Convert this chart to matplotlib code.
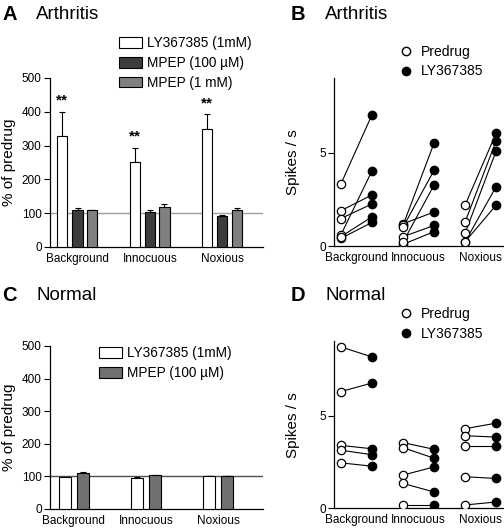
import matplotlib
matplotlib.use("Agg")
import matplotlib.pyplot as plt
from matplotlib.lines import Line2D
import numpy as np

plt.rcParams['font.family'] = ['Liberation Sans', 'DejaVu Sans']

conditions = ["Background", "Innocuous", "Noxious"]

# A: arthritis, % of predrug (mean, upper SEM)
arth_labels = ["LY367385 (1mM)", "MPEP (100 \u00b5M)", "MPEP (1 mM)"]
arth_means = [[327, 250, 350], [110, 104, 93], [108, 119, 108]]
arth_err = [[73, 44, 42], [5, 6, 3], [2, 9, 6]]
arth_colors = ["white", "#3c3c3c", "#808080"]
arth_sig = ["**", "**", "**"]

# C: normal, % of predrug
norm_labels = ["LY367385 (1mM)", "MPEP (100 \u00b5M)"]
norm_means = [[97, 96, 101], [111, 104, 101]]
norm_err = [[2, 2, 1], [2, 1, 1]]
norm_colors = ["white", "#707070"]

# B: arthritis, spikes/s, predrug vs LY367385 (paired units)
arth_pre = [[3.31, 1.89, 1.47, 0.59, 0.41, 0.50],
            [1.19, 1.10, 1.00, 0.50, 0.09, 0.20],
            [2.19, 1.28, 0.68, 0.23, 0.23]]
arth_post = [[7.01, 2.73, 2.25, 4.01, 1.26, 1.56],
             [1.82, 5.50, 4.05, 1.10, 0.77, 3.26],
             [6.04, 5.63, 5.09, 3.18, 2.19]]

# D: normal, spikes/s
norm_pre = [[8.70, 6.29, 3.39, 3.13, 2.45],
            [3.54, 3.27, 1.79, 1.34, 0.18],
            [4.29, 3.91, 3.36, 1.70, 0.18]]
norm_post = [[8.16, 6.75, 3.21, 2.89, 2.27],
             [3.18, 2.70, 2.23, 0.88, 0.18],
             [4.59, 3.84, 3.36, 1.61, 0.34]]

fig = plt.figure(figsize=(5.04, 5.28), dpi=100)


def style_axes(ax):
    ax.spines['top'].set_visible(False)
    ax.spines['right'].set_visible(False)
    ax.tick_params(axis='x', length=0, labelsize=8.5, pad=4)
    ax.tick_params(axis='y', length=4, width=0.8, labelsize=8.5, direction='out', pad=2)
    for s in ('left', 'bottom'):
        ax.spines[s].set_linewidth(0.9)


def bar_panel(ax, means, errs, colors, labels, width, offsets, line_color, sig=None):
    x = np.arange(len(conditions))
    for k in range(len(means)):
        ax.bar(x + offsets[k], means[k], width, color=colors[k], edgecolor='black',
               linewidth=0.8, label=labels[k], zorder=3)
        ax.errorbar(x + offsets[k], means[k], yerr=[np.zeros(3), errs[k]], fmt='none',
                    ecolor='black', elinewidth=0.8, capsize=2.5, capthick=0.8, zorder=2)
    if sig is not None:
        for i in range(len(conditions)):
            ax.annotate(sig[i], (x[i] + offsets[0], means[0][i] + errs[0][i]),
                        xytext=(0, 3), textcoords='offset points', ha='center',
                        va='bottom', fontsize=11, fontweight='bold')
    ax.axhline(100, color=line_color, lw=1.0, zorder=1)
    ax.set_ylim(0, 500)
    ax.set_yticks([0, 100, 200, 300, 400, 500])
    ax.set_xticks(x)
    ax.set_xticklabels(conditions)
    ax.set_ylabel("% of predrug", fontsize=11)
    ax.yaxis.set_label_coords(-0.158, 0.5)
    style_axes(ax)


def pair_panel(ax, pre, post):
    for i in range(len(conditions)):
        for a, b in zip(pre[i], post[i]):
            ax.plot([i, i + 0.5], [a, b], color='black', lw=0.8, zorder=2)
        ax.plot([i] * len(pre[i]), pre[i], 'o', ms=6, mfc='white', mec='black',
                mew=0.9, ls='none', zorder=3)
        ax.plot([i + 0.5] * len(post[i]), post[i], 'o', ms=6, mfc='black', mec='black',
                ls='none', zorder=3)
    ax.set_ylim(0, 9)
    ax.set_xlim(-0.11, 2.61)
    ax.set_yticks([0, 5])
    ax.set_xticks(np.arange(3) + 0.25)
    ax.set_xticklabels(conditions)
    ax.set_ylabel("Spikes / s", fontsize=11)
    ax.yaxis.set_label_coords(-0.2, 0.5)
    style_axes(ax)


leg_kw = dict(bbox_transform=fig.transFigure, frameon=False, fontsize=9.8,
              handlelength=1.7, handleheight=0.8, handletextpad=0.35,
              labelspacing=0.42, borderaxespad=0, borderpad=0, loc='upper left')
dot_kw = dict(bbox_transform=fig.transFigure, frameon=False, fontsize=10,
              handletextpad=0.5, labelspacing=0.4, borderaxespad=0, borderpad=0,
              handlelength=1.2, loc='upper left')

# A
axA = fig.add_axes([0.0992, 0.5322, 0.4226, 0.3201])
bar_panel(axA, arth_means, arth_err, arth_colors, arth_labels, 0.14,
          [-0.21, 0.0, 0.20], "#a0a0a0", sig=arth_sig)
axA.set_xlim(-0.38, 2.56)
axA.legend(bbox_to_anchor=(0.236, 0.931), **leg_kw)

# B
axB = fig.add_axes([0.6627, 0.534, 0.3353, 0.3188])
pair_panel(axB, arth_pre, arth_post)
legB = [Line2D([], [], marker='o', ls='none', ms=6, mfc='white', mec='black', label='Predrug'),
        Line2D([], [], marker='o', ls='none', ms=6, mfc='black', mec='black', label='LY367385')]
axB.legend(handles=legB, bbox_to_anchor=(0.789, 0.915), **dot_kw)

# C
axC = fig.add_axes([0.0992, 0.036, 0.4226, 0.3087])
bar_panel(axC, norm_means, norm_err, norm_colors, norm_labels, 0.17,
          [-0.125, 0.125], "#505050")
axC.set_xlim(-0.33, 2.62)
axC.legend(bbox_to_anchor=(0.196, 0.344), **leg_kw)

# D
axD = fig.add_axes([0.6627, 0.0373, 0.3353, 0.3163])
pair_panel(axD, norm_pre, norm_post)
axD.legend(handles=legB, bbox_to_anchor=(0.789, 0.418), **dot_kw)

# panel titles
for px, py, letter, title in [(0.004, 0.972, "A", "Arthritis"), (0.577, 0.972, "B", "Arthritis"),
                              (0.004, 0.44, "C", "Normal"), (0.577, 0.44, "D", "Normal")]:
    fig.text(px, py, letter, fontsize=14.5, fontweight='bold', va='center')
    fig.text(px + 0.068, py, title, fontsize=13.5, va='center')

fig.savefig("out.png", dpi=100)
